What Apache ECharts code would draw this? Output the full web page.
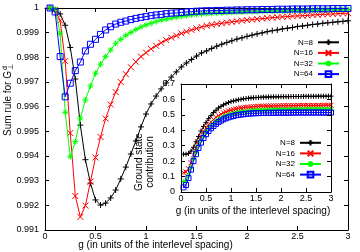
<!DOCTYPE html>
<html><head><meta charset="utf-8">
<script src="https://cdn.jsdelivr.net/npm/echarts@6/dist/echarts.min.js"></script>
<style>html,body{margin:0;padding:0;background:#fff}#c{width:360px;height:252px}</style>
</head><body><div id="c"></div>
<script>
// ---------------- data ----------------
const gValues = [0.05,0.10,0.15,0.20,0.25,0.30,0.35,0.40,0.45,0.50,0.55,0.60,0.65,0.70,0.75,0.80,0.85,0.90,0.95,1.00,
  1.05,1.10,1.15,1.20,1.25,1.30,1.35,1.40,1.45,1.50,1.55,1.60,1.65,1.70,1.75,1.80,1.85,1.90,1.95,2.00,
  2.05,2.10,2.15,2.20,2.25,2.30,2.35,2.40,2.45,2.50,2.55,2.60,2.65,2.70,2.75,2.80,2.85,2.90,2.95,3.00];
const seriesNames = ['N=8','N=16','N=32','N=64'];

// main plot: sum rule
const sumRuleN8 = [1.00000,0.99992,0.99976,0.99930,0.99840,0.99712,0.99525,0.99385,0.99290,0.99222,0.99201,0.99209,0.99230,0.99262,0.99307,0.99355,0.99408,0.99461,0.99518,0.99570,
  0.99611,0.99643,0.99672,0.99696,0.99720,0.99741,0.99761,0.99777,0.99791,0.99805,0.99818,0.99826,0.99836,0.99845,0.99853,0.99860,0.99867,0.99874,0.99879,0.99885,
  0.99890,0.99895,0.99899,0.99904,0.99908,0.99911,0.99915,0.99918,0.99921,0.99925,0.99927,0.99930,0.99933,0.99935,0.99938,0.99940,0.99942,0.99944,0.99946,0.99948];
const sumRuleN16 = [1.00000,0.99992,0.99949,0.99785,0.99493,0.99238,0.99153,0.99199,0.99296,0.99394,0.99477,0.99552,0.99609,0.99659,0.99700,0.99732,0.99760,0.99782,0.99803,0.99819,
  0.99834,0.99847,0.99859,0.99870,0.99880,0.99888,0.99897,0.99904,0.99911,0.99917,0.99923,0.99928,0.99932,0.99935,0.99938,0.99941,0.99944,0.99946,0.99949,0.99951,
  0.99953,0.99955,0.99957,0.99959,0.99961,0.99962,0.99964,0.99965,0.99967,0.99968,0.99969,0.99970,0.99972,0.99973,0.99974,0.99975,0.99976,0.99977,0.99978,0.99979];
const sumRuleN32 = [1.00000,0.99995,0.99897,0.99577,0.99397,0.99458,0.99553,0.99627,0.99684,0.99735,0.99772,0.99803,0.99830,0.99857,0.99873,0.99889,0.99901,0.99913,0.99923,0.99931,
  0.99938,0.99945,0.99951,0.99955,0.99959,0.99963,0.99966,0.99969,0.99972,0.99974,0.99976,0.99977,0.99978,0.99979,0.99980,0.99981,0.99982,0.99983,0.99984,0.99985,
  0.99985,0.99986,0.99986,0.99987,0.99987,0.99988,0.99988,0.99989,0.99989,0.99990,0.99990,0.99991,0.99991,0.99992,0.99992,0.99993,0.99993,0.99993,0.99994,0.99994];
const sumRuleN64 = [1.00000,0.99984,0.99803,0.99640,0.99695,0.99746,0.99781,0.99826,0.99853,0.99873,0.99893,0.99911,0.99924,0.99935,0.99942,0.99947,0.99953,0.99958,0.99962,0.99965,
  0.99969,0.99972,0.99974,0.99977,0.99979,0.99980,0.99982,0.99984,0.99985,0.99987,0.99988,0.99989,0.99989,0.99990,0.99990,0.99991,0.99991,0.99992,0.99992,0.99993,
  0.99993,0.99993,0.99994,0.99994,0.99994,0.99995,0.99995,0.99995,0.99996,0.99996,0.99996,0.99996,0.99997,0.99997,0.99997,0.99997,0.99998,0.99998,0.99998,0.99998];

// inset: ground state contribution
const groundN8 = [0.245,0.245,0.250,0.265,0.290,0.325,0.360,0.395,0.425,0.450,0.475,0.495,0.515,0.530,0.545,0.555,0.565,0.573,0.580,0.586,
  0.590,0.594,0.598,0.601,0.604,0.606,0.608,0.610,0.611,0.612,0.613,0.614,0.615,0.615,0.616,0.616,0.617,0.617,0.617,0.618,
  0.618,0.618,0.618,0.619,0.619,0.619,0.619,0.619,0.620,0.620,0.620,0.620,0.620,0.620,0.621,0.621,0.621,0.621,0.621,0.621];
const groundN16 = [0.125,0.130,0.150,0.190,0.240,0.285,0.325,0.360,0.390,0.415,0.435,0.455,0.470,0.484,0.495,0.505,0.513,0.520,0.526,0.531,
  0.535,0.539,0.542,0.545,0.547,0.549,0.551,0.552,0.553,0.554,0.555,0.556,0.557,0.557,0.558,0.558,0.559,0.559,0.559,0.560,
  0.560,0.560,0.560,0.560,0.560,0.560,0.561,0.561,0.561,0.561,0.561,0.561,0.561,0.561,0.561,0.561,0.562,0.562,0.562,0.562];
const groundN32 = [0.065,0.075,0.110,0.160,0.215,0.260,0.300,0.335,0.365,0.390,0.410,0.430,0.445,0.460,0.470,0.480,0.488,0.495,0.500,0.505,
  0.509,0.513,0.516,0.519,0.521,0.523,0.525,0.527,0.528,0.529,0.530,0.531,0.531,0.532,0.532,0.533,0.533,0.534,0.534,0.534,
  0.535,0.535,0.535,0.535,0.536,0.536,0.536,0.536,0.536,0.536,0.537,0.537,0.537,0.537,0.537,0.537,0.537,0.537,0.537,0.537];
const groundN64 = [0.030,0.045,0.090,0.145,0.200,0.245,0.285,0.320,0.350,0.375,0.395,0.413,0.428,0.442,0.453,0.463,0.471,0.478,0.484,0.489,
  0.493,0.497,0.500,0.502,0.504,0.506,0.508,0.509,0.510,0.511,0.511,0.512,0.512,0.513,0.513,0.513,0.513,0.514,0.514,0.514,
  0.514,0.514,0.514,0.514,0.515,0.515,0.515,0.515,0.515,0.515,0.515,0.515,0.515,0.515,0.515,0.515,0.515,0.515,0.515,0.515];

// tick labels
const mainXTickLabels = ['0','0.5','1','1.5','2','2.5','3'];
const mainYTickLabels = ['0.991','0.992','0.993','0.994','0.995','0.996','0.997','0.998','0.999','1'];
const insetXTickLabels = ['0','0.5','1','1.5','2','2.5','3'];
const insetYTickLabels = ['0','0.1','0.2','0.3','0.4','0.5','0.6','0.7'];

const xTitle = 'g (in units of the interlevel spacing)';
const mainYTitle = 'Sum rule for G';
const insetYTitle = 'Ground state\ncontribution';

// ---------------- chart ----------------
const FONT = 'Liberation Sans, Arial, Helvetica, sans-serif';
const colors = ['#000000', '#ff0000', '#00ff00', '#0000ff'];
const symbols = [
  'path://M5,0L5,10M0,5L10,5',
  'path://M0,0L10,10M10,0L0,10',
  'path://M5,0L5,10M0,5L10,5M1.5,1.5L8.5,8.5M8.5,1.5L1.5,8.5',
  'path://M0,0L10,0L10,10L0,10Z'
];
const mainSets = [sumRuleN8, sumRuleN16, sumRuleN32, sumRuleN64];
const insetSets = [groundN8, groundN16, groundN32, groundN64];

function axis(gridIndex, position, min, max, interval, labels, showLabel) {
  const isX = position === 'bottom' || position === 'top';
  return {
    type: 'value', gridIndex, position, min, max, interval,
    axisLine: { show: true, onZero: false, lineStyle: { color: '#000', width: 1 } },
    axisTick: { show: true, inside: true, length: 4, lineStyle: { color: '#000', width: 1 } },
    splitLine: { show: false },
    axisLabel: {
      show: showLabel, color: '#000', fontSize: 9, fontFamily: FONT,
      margin: isX ? 2 : 6,
      formatter: (v) => labels[Math.round((v - min) / interval)]
    }
  };
}

const series = [];
mainSets.forEach((arr, i) => {
  series.push({
    type: 'line', name: seriesNames[i], xAxisIndex: 0, yAxisIndex: 0,
    data: gValues.map((g, k) => [g, arr[k]]),
    symbol: symbols[i], symbolSize: 6, showSymbol: true, showAllSymbol: true,
    lineStyle: { color: colors[i], width: 1 },
    itemStyle: { color: 'none', borderColor: colors[i], borderWidth: 1 },
    silent: true, z: 3 + i
  });
});
insetSets.forEach((arr, i) => {
  series.push({
    type: 'line', name: seriesNames[i], xAxisIndex: 2, yAxisIndex: 2,
    data: gValues.map((g, k) => [g, arr[k]]),
    symbol: symbols[i], symbolSize: 5, showSymbol: true, showAllSymbol: true,
    lineStyle: { color: colors[i], width: 1 },
    itemStyle: { color: 'none', borderColor: colors[i], borderWidth: 1 },
    silent: true, z: 13 + i
  });
});

const legendBase = {
  data: seriesNames, orient: 'vertical', align: 'right', padding: 0,
  itemWidth: 21, itemHeight: 7, itemGap: 0, selectedMode: false,
  textStyle: { fontSize: 8, color: '#000', fontFamily: FONT, lineHeight: 7 }
};

const option = {
  animation: false,
  backgroundColor: '#fff',
  grid: [
    { left: 45, top: 8, width: 303, height: 222 },
    { left: 181, top: 84, width: 150, height: 108, show: true, backgroundColor: '#fff', borderWidth: 0, z: 10 }
  ],
  xAxis: [
    axis(0, 'bottom', 0, 3, 0.5, mainXTickLabels, true),
    axis(0, 'top', 0, 3, 0.5, mainXTickLabels, false),
    Object.assign(axis(1, 'bottom', 0, 3, 0.5, insetXTickLabels, true), { z: 20 }),
    Object.assign(axis(1, 'top', 0, 3, 0.5, insetXTickLabels, false), { z: 20 })
  ],
  yAxis: [
    axis(0, 'left', 0.991, 1, 0.001, mainYTickLabels, true),
    axis(0, 'right', 0.991, 1, 0.001, mainYTickLabels, false),
    Object.assign(axis(1, 'left', 0, 0.7, 0.1, insetYTickLabels, true), { z: 20 }),
    Object.assign(axis(1, 'right', 0, 0.7, 0.1, insetYTickLabels, false), { z: 20 })
  ],
  legend: [
    Object.assign({}, legendBase, { right: 20, top: 37 }),
    Object.assign({}, legendBase, { right: 38, top: 137.5, z: 30 })
  ],
  graphic: [
    { type: 'text', x: 155.5, y: 245.5, silent: true,
      style: { text: xTitle, fontSize: 10, fontFamily: FONT, fill: '#000', align: 'center', verticalAlign: 'middle', textAlign: 'center', textVerticalAlign: 'middle' } },
    { type: 'text', x: 253, y: 211.5, silent: true,
      style: { text: xTitle, fontSize: 10, fontFamily: FONT, fill: '#000', align: 'center', verticalAlign: 'middle', textAlign: 'center', textVerticalAlign: 'middle' } },
    { type: 'group', x: 8, y: 100, rotation: Math.PI / 2, silent: true, children: [
      { type: 'text', x: -3.5, y: 0,
        style: { text: mainYTitle, fontSize: 10, fontFamily: FONT, fill: '#000', align: 'center', verticalAlign: 'middle', textAlign: 'center', textVerticalAlign: 'middle' } },
      { type: 'text', x: 30, y: -3,
        style: { text: 'd', fontSize: 7, fontFamily: FONT, fill: '#000', align: 'left', verticalAlign: 'middle', textAlign: 'left', textVerticalAlign: 'middle' } },
      { type: 'text', x: 30, y: 3.5,
        style: { text: '\u22a5', fontSize: 7, fontFamily: FONT, fill: '#000', align: 'left', verticalAlign: 'middle', textAlign: 'left', textVerticalAlign: 'middle' } }
    ] },
    { type: 'text', x: 145, y: 162, rotation: Math.PI / 2, silent: true,
      style: { text: insetYTitle, fontSize: 10, lineHeight: 11, fontFamily: FONT, fill: '#000', align: 'center', verticalAlign: 'middle', textAlign: 'center', textVerticalAlign: 'middle' } }
  ],
  series
};

const chart = echarts.init(document.getElementById('c'), null, { renderer: 'canvas' });
chart.setOption(option);
</script>
</body></html>
